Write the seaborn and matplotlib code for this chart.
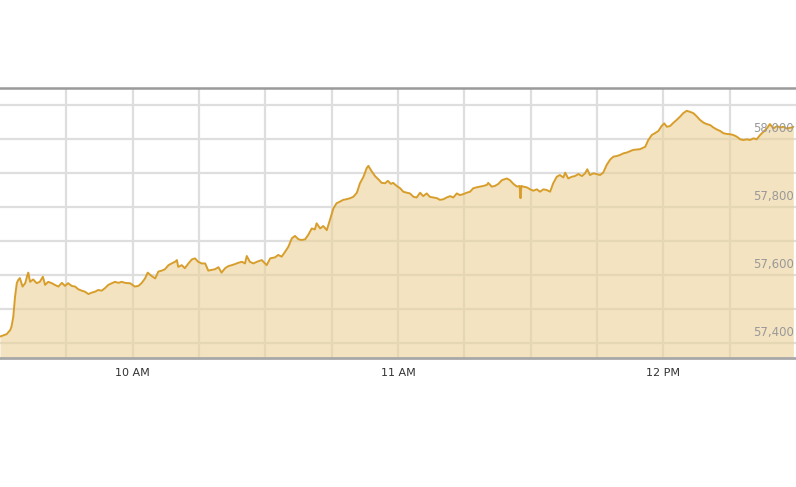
import matplotlib
matplotlib.use("Agg")
import matplotlib.pyplot as plt
import matplotlib.dates as mdates
import matplotlib.ticker as mticker
import seaborn as sns
import pandas as pd

# Intraday index values, minutes after 09:30
minutes = [
    0, 1.5, 2.3, 2.6, 3.0, 3.4, 3.8, 4.1, 4.5, 5.1, 5.7, 6.2, 6.4, 6.8, 7.5, 8.3, 9.0, 9.7,
    10.2, 10.9, 11.7, 12.4, 13.2, 14.0, 14.7, 15.4, 16.2, 17.0, 17.7, 18.5, 19.2, 20.0,
    20.7, 21.5, 22.2, 23.0, 23.7, 24.5, 25.3, 26.0, 26.8, 27.5, 28.3, 29.0, 29.4, 30.5,
    31.3, 32.0, 32.8, 33.4, 34.3, 35.1, 35.8, 36.6, 37.3, 38.1, 38.8, 39.6, 40.0, 40.3,
    41.1, 41.8, 42.6, 43.4, 44.1, 44.8, 45.6, 46.4, 47.1, 47.9, 48.6, 49.4, 50.1, 50.9,
    51.6, 52.4, 53.1, 53.9, 54.7, 55.4, 55.8, 56.5, 57.3, 58.1, 59.2, 60.3, 61.1, 62.2,
    62.9, 63.7, 64.5, 65.2, 66.0, 66.7, 67.5, 68.2, 69.0, 69.7, 70.5, 71.2, 71.6, 72.4,
    73.1, 73.9, 74.6, 75.4, 76.1, 76.9, 77.6, 78.4, 79.2, 79.9, 80.7, 81.4, 82.2, 82.9,
    83.3, 84.1, 84.8, 85.6, 86.3, 87.1, 87.7, 88.4, 88.9, 89.7, 90.5, 91.2, 92.0, 92.7,
    93.5, 94.2, 95.0, 95.7, 96.5, 97.2, 98.0, 98.8, 99.5, 100.3, 101.0, 101.8, 102.5,
    103.3, 104.0, 104.8, 105.5, 106.3, 107.0, 107.8, 108.6, 109.3, 110.1, 110.4, 111.2,
    111.9, 112.7, 113.5, 114.6, 115.3, 116.1, 116.9, 117.5, 117.7, 117.9, 118.3, 119.1,
    119.9, 120.6, 121.4, 122.1, 122.9, 123.6, 124.4, 125.1, 125.9, 126.6, 127.4, 127.8,
    128.5, 129.3, 130.0, 130.8, 131.6, 132.3, 132.8, 133.4, 134.2, 134.9, 135.7, 136.4,
    137.2, 138.0, 138.7, 139.5, 140.2, 141.0, 141.7, 143.2, 144.7, 145.9, 146.6, 147.4,
    148.1, 148.9, 149.6, 150.2, 150.8, 151.5, 152.3, 153.0, 153.8, 154.5, 155.3, 156.0,
    156.8, 157.6, 158.3, 159.1, 159.8, 160.6, 161.3, 162.1, 162.8, 163.6, 164.3, 165.1,
    165.8, 166.6, 167.4, 168.1, 168.9, 169.6, 170.4, 171.1, 171.9, 172.6, 173.4, 174.1,
    174.9, 175.7, 176.4, 177.2, 177.9, 179.1, 179.4,
]
index_values = [
    57419, 57426, 57438, 57448, 57477, 57536, 57576, 57585, 57591, 57566, 57576, 57600,
    57607, 57580, 57587, 57576, 57580, 57595, 57571, 57580, 57576, 57571, 57566, 57577,
    57568, 57576, 57568, 57566, 57558, 57554, 57551, 57544, 57548, 57551, 57556, 57554,
    57561, 57571, 57576, 57580, 57577, 57580, 57577, 57576, 57576, 57566, 57568, 57576,
    57590, 57607, 57597, 57590, 57610, 57613, 57617, 57629, 57634, 57639, 57644, 57624,
    57629, 57620, 57634, 57646, 57649, 57639, 57634, 57634, 57613, 57615, 57617, 57623,
    57607, 57620, 57626, 57629, 57632, 57636, 57639, 57634, 57656, 57639, 57634, 57639,
    57644, 57629, 57649, 57652, 57659, 57654, 57669, 57683, 57708, 57715, 57705, 57703,
    57705, 57718, 57737, 57734, 57752, 57737, 57744, 57732, 57762, 57796, 57811, 57816,
    57821, 57823, 57826, 57830, 57842, 57870, 57889, 57914, 57921, 57904, 57891, 57881,
    57871, 57870, 57877, 57868, 57871, 57862, 57855, 57845, 57842, 57840, 57830, 57828,
    57842, 57832, 57840, 57830, 57828, 57826, 57821, 57823, 57828, 57832, 57828, 57840,
    57835, 57838, 57842, 57845, 57855, 57858, 57860, 57862, 57865, 57871, 57860, 57862,
    57868, 57879, 57884, 57879, 57868, 57860, 57862, 57826, 57862, 57860, 57858, 57852,
    57848, 57852, 57845, 57852, 57850, 57845, 57870, 57889, 57894, 57887, 57901, 57884,
    57889, 57891, 57897, 57891, 57899, 57911, 57894, 57899, 57897, 57894, 57901, 57924,
    57940, 57948, 57950, 57953, 57958, 57960, 57968, 57970, 57977, 57997, 58012, 58017,
    58024, 58038, 58046, 58036, 58038, 58048, 58056, 58066, 58076, 58083, 58080, 58076,
    58066, 58056, 58048, 58044, 58041, 58034, 58028, 58024, 58017, 58015, 58014, 58012,
    58007, 57999, 57997, 57999, 57997, 58002, 57999, 58012, 58021, 58031, 58044, 58031,
    58038, 58034, 58036, 58031, 58034, 58036,
]
label_levels = [57400, 57600, 57800, 58000]

start = pd.Timestamp("2020-01-01 09:30")
df = pd.DataFrame({
    "time": start + pd.to_timedelta(minutes, unit="m"),
    "value": index_values,
})

sns.set_style("white")
fig = plt.figure(figsize=(7.96, 4.87), dpi=100)
ax = fig.add_axes([0, 0.2649, 1, 0.5544])

line_color = "#d89e2c"
ax.fill_between(df["time"], df["value"], 57000, color="#ebd198", alpha=0.6,
                linewidth=0, zorder=2)
sns.lineplot(data=df, x="time", y="value", color=line_color, linewidth=1.4,
             ax=ax, zorder=3)

ax.set_xlim(start, start + pd.Timedelta(minutes=180))
ax.set_ylim(57356, 58150)

# hour labels, quarter-hour grid (no lines on the outer edges)
ax.xaxis.set_major_locator(mdates.HourLocator())
ax.xaxis.set_major_formatter(mdates.DateFormatter("%I %p"))
quarters = pd.date_range(start + pd.Timedelta(minutes=15),
                         start + pd.Timedelta(minutes=165), freq="15min")
ax.xaxis.set_minor_locator(mticker.FixedLocator(mdates.date2num(quarters)))
ax.set_yticks(range(57400, 58101, 100))
ax.set_yticklabels([])

ax.grid(True, which="both", color="#dedede", linewidth=1.6, zorder=1)
ax.set_axisbelow(True)
ax.tick_params(axis="both", which="both", length=0)
ax.tick_params(axis="x", pad=7, labelsize=8, labelcolor="#333333")
ax.set_xlabel("")
ax.set_ylabel("")

for side in ["left", "right"]:
    ax.spines[side].set_visible(False)
ax.spines["top"].set_color("#9a9a9a")
ax.spines["top"].set_linewidth(1.8)
ax.spines["bottom"].set_color("#a8a8a8")
ax.spines["bottom"].set_linewidth(2)

for level in label_levels:
    ax.annotate(f"{level:,}", xy=(0.997, level),
                xycoords=ax.get_yaxis_transform(),
                xytext=(0, 3), textcoords="offset points",
                ha="right", va="bottom", fontsize=8.5, color="#999999", zorder=4)

fig.savefig("out.png", dpi=100)
